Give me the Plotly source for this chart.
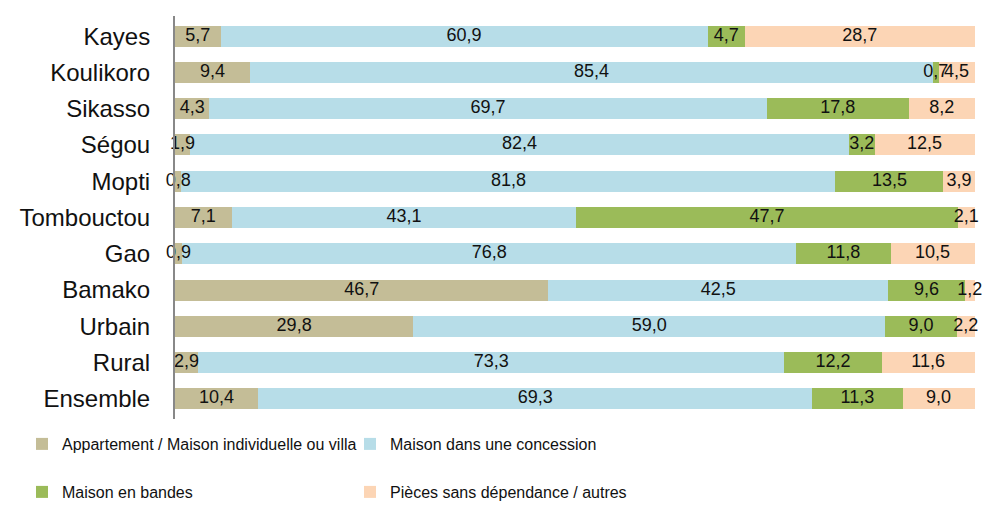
import plotly.graph_objects as go

categories = ["Kayes", "Koulikoro", "Sikasso", "Ségou", "Mopti", "Tombouctou", "Gao",
              "Bamako", "Urbain", "Rural", "Ensemble"]
appartement = [5.7, 9.4, 4.3, 1.9, 0.8, 7.1, 0.9, 46.7, 29.8, 2.9, 10.4]
concession = [60.9, 85.4, 69.7, 82.4, 81.8, 43.1, 76.8, 42.5, 59.0, 73.3, 69.3]
bandes = [4.7, 0.7, 17.8, 3.2, 13.5, 47.7, 11.8, 9.6, 9.0, 12.2, 11.3]
pieces = [28.7, 4.5, 8.2, 12.5, 3.9, 2.1, 10.5, 1.2, 2.2, 11.6, 9.0]

series_names = ["Appartement / Maison individuelle ou villa", "Maison dans une concession",
                "Maison en bandes", "Pièces sans dépendance / autres"]
colors = ["#C4BD97", "#B7DDE8", "#9BBB59", "#FCD5B5"]
legends = ["legend", "legend2", "legend3", "legend4"]
series_values = [appartement, concession, bandes, pieces]

fig = go.Figure()
for name, vals, col, lg in zip(series_names, series_values, colors, legends):
    fig.add_trace(go.Bar(
        y=categories, x=vals, name=name, orientation="h",
        marker=dict(color=col, line=dict(width=0)),
        legend=lg, hoverinfo="x+name",
    ))

# value labels drawn above all bars, centred on each segment
base = [0.0] * len(categories)
for vals in series_values:
    mids = [b + v / 2 for b, v in zip(base, vals)]
    fig.add_trace(go.Scatter(
        x=mids, y=categories, mode="text",
        text=[f"{v:.1f}".replace(".", ",") for v in vals],
        textposition="middle center", cliponaxis=False, showlegend=False, hoverinfo="skip",
        textfont=dict(family="Liberation Sans, Arial, sans-serif", size=18, color="#111111"),
    ))
    base = [b + v for b, v in zip(base, vals)]

legend_font = dict(family="Liberation Sans, Arial, sans-serif", size=16, color="#111111")


def leg(xpx, ypx):
    return dict(orientation="h", xref="container", yref="container",
                x=xpx / 984, y=1 - ypx / 505, xanchor="left", yanchor="middle",
                font=legend_font, itemwidth=30, bgcolor="rgba(0,0,0,0)")


fig.update_layout(
    barmode="stack",
    bargap=0.42,
    separators=", ",
    width=984, height=505,
    margin=dict(l=175, r=9, t=16, b=86),
    paper_bgcolor="white", plot_bgcolor="white",
    xaxis=dict(range=[0, 100.05], visible=False, fixedrange=True),
    yaxis=dict(categoryorder="array", categoryarray=categories, autorange="reversed",
               showline=True, linecolor="#888888", linewidth=2, ticks="",
               ticklabelstandoff=18, showgrid=False, automargin=False, fixedrange=True,
               tickfont=dict(family="Liberation Sans, Arial, sans-serif", size=24, color="#111111")),
    legend=leg(22, 444),
    legend2=leg(350, 444),
    legend3=leg(22, 492),
    legend4=leg(350, 492),
    showlegend=True,
)

fig.write_html("out.html", config={"displayModeBar": False},
               post_script="document.body.style.margin='0px';document.body.style.overflow='hidden';")
